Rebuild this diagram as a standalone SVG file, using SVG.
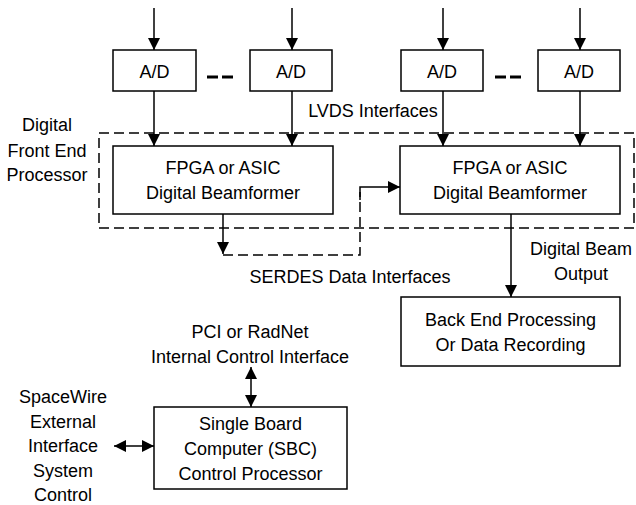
<svg xmlns="http://www.w3.org/2000/svg" width="636" height="505" viewBox="0 0 636 505">
  <style>
    .box { fill: #ffffff; stroke: #000000; stroke-width: 1.5; }
    .wire { fill: none; stroke: #000000; stroke-width: 1.5; }
    .dash { fill: none; stroke: #000000; stroke-width: 1.5; stroke-dasharray: 10 5; }
    .dots { fill: none; stroke: #000000; stroke-width: 3; stroke-dasharray: 11 4; }
    text { font-family: "Liberation Sans", Arial, sans-serif; font-size: 18px; fill: #000000; text-anchor: middle; }
  </style>
  <defs>
    <marker id="head" viewBox="0 0 12 12" markerWidth="12" markerHeight="12" markerUnits="userSpaceOnUse" refX="12" refY="6" orient="auto-start-reverse">
      <path d="M0,0 L12,6 L0,12 Z" fill="#000000"/>
    </marker>
  </defs>

  <!-- front end processor boundary -->
  <g id="front-end">
    <rect class="dash" x="99" y="133" width="535" height="95"/>
    <text x="47" y="131">Digital</text>
    <text x="47" y="157">Front End</text>
    <text x="47" y="181">Processor</text>
  </g>

  <!-- converters -->
  <g id="ad1"><rect class="box" x="113" y="50" width="83" height="41"/><text x="154.5" y="78">A/D</text></g>
  <g id="ad2"><rect class="box" x="250" y="50" width="82" height="41"/><text x="291" y="78">A/D</text></g>
  <g id="ad3"><rect class="box" x="401" y="50" width="82" height="41"/><text x="442" y="78">A/D</text></g>
  <g id="ad4"><rect class="box" x="538" y="50" width="82" height="41"/><text x="579" y="78">A/D</text></g>
  <g id="ellipsis">
    <line class="dots" x1="207" y1="77" x2="233" y2="77"/>
    <line class="dots" x1="495" y1="77" x2="521" y2="77"/>
  </g>

  <!-- beamformers -->
  <g id="fpga1">
    <rect class="box" x="113" y="146" width="220" height="68"/>
    <text x="223" y="174">FPGA or ASIC</text>
    <text x="223" y="199">Digital Beamformer</text>
  </g>
  <g id="fpga2">
    <rect class="box" x="400" y="146" width="220" height="68"/>
    <text x="510" y="174">FPGA or ASIC</text>
    <text x="510" y="199">Digital Beamformer</text>
  </g>

  <g id="backend">
    <rect class="box" x="401" y="297" width="219" height="69"/>
    <text x="510.5" y="326">Back End Processing</text>
    <text x="510.5" y="351">Or Data Recording</text>
  </g>

  <g id="sbc">
    <rect class="box" x="154" y="407" width="193" height="82"/>
    <text x="250.5" y="430">Single Board</text>
    <text x="250.5" y="455">Computer (SBC)</text>
    <text x="250.5" y="480">Control Processor</text>
  </g>

  <!-- connectors -->
  <g id="connectors">
    <line class="wire" x1="154" y1="8" x2="154" y2="50" marker-end="url(#head)"/>
    <line class="wire" x1="292" y1="8" x2="292" y2="50" marker-end="url(#head)"/>
    <line class="wire" x1="443" y1="8" x2="443" y2="50" marker-end="url(#head)"/>
    <line class="wire" x1="580" y1="8" x2="580" y2="50" marker-end="url(#head)"/>

    <line class="wire" x1="154" y1="91" x2="154" y2="146" marker-end="url(#head)"/>
    <line class="wire" x1="292" y1="91" x2="292" y2="146" marker-end="url(#head)"/>
    <line class="wire" x1="443" y1="91" x2="443" y2="146" marker-end="url(#head)"/>
    <line class="wire" x1="580" y1="91" x2="580" y2="146" marker-end="url(#head)"/>

    <!-- SERDES link between beamformers -->
    <line class="wire" x1="223" y1="214" x2="223" y2="254" marker-end="url(#head)"/>
    <path class="dash" d="M223,255 H360 V192"/>
    <path class="wire" d="M360,200 V187 H400" marker-end="url(#head)"/>

    <line class="wire" x1="511" y1="214" x2="511" y2="297" marker-end="url(#head)"/>

    <line class="wire" x1="251" y1="367" x2="251" y2="407" marker-start="url(#head)" marker-end="url(#head)"/>
    <line class="wire" x1="114" y1="446" x2="154" y2="446" marker-start="url(#head)" marker-end="url(#head)"/>
  </g>

  <!-- interface labels -->
  <g id="labels">
    <text x="373" y="117">LVDS Interfaces</text>
    <text x="350" y="283">SERDES Data Interfaces</text>
    <text x="581" y="255">Digital Beam</text>
    <text x="581" y="280">Output</text>
    <text x="250" y="338">PCI or RadNet</text>
    <text x="250" y="363">Internal Control Interface</text>
    <text x="63" y="403">SpaceWire</text>
    <text x="63" y="428">External</text>
    <text x="63" y="452">Interface</text>
    <text x="63" y="477">System</text>
    <text x="63" y="501">Control</text>
  </g>
</svg>
